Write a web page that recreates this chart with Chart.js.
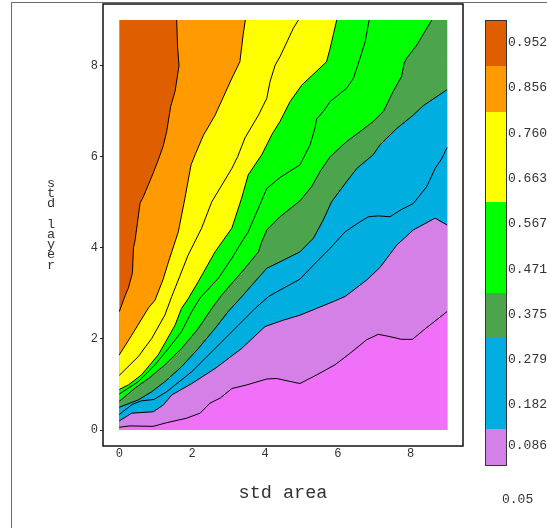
<!DOCTYPE html>
<html>
<head>
<meta charset="utf-8">
<script src="https://cdn.jsdelivr.net/npm/chart.js@4.4.1/dist/chart.umd.min.js"></script>
<style>
  html, body { margin: 0; padding: 0; background: #fff; }
  #wrap { position: relative; width: 547px; height: 528px; overflow: hidden; font-family: "Liberation Mono", "Courier New", monospace; color: #333; }
  #c { position: absolute; left: 0; top: 0; }
  #page { position: absolute; left: 11px; top: 2px; right: -5px; bottom: -5px; border-left: 1px solid #6a6a6a; border-top: 1px solid #6a6a6a; }
  #xTitle { position: absolute; left: 183px; width: 200px; top: 485px; text-align: center; font-size: 18.5px; line-height: 18px; white-space: pre; }
  #yTitle { position: absolute; left: 44px; width: 14px; top: 179px; font-size: 13.5px; line-height: 10.2px; text-align: center; }
  #yTitle span { display: block; height: 10.2px; }
  #bar { position: absolute; left: 485px; top: 20px; width: 20px; border: 1px solid #333; }
  #bar div { width: 20px; }
  .lab { position: absolute; left: 508px; font-size: 13px; white-space: pre; }
</style>
</head>
<body>
<div id="wrap">
  <div id="page"></div>
  <canvas id="c" width="547" height="528"></canvas>
  <div id="xTitle"></div>
  <div id="yTitle"></div>
  <div id="bar"></div>
  <div id="labs"></div>
</div>
<script>
// filled contour of the std area / std layer surface
const xTitle = "std area", yTitle = "std layer";
const xTicks = [0, 2, 4, 6, 8];
const yTicks = [0, 2, 4, 6, 8];
const xRange = [0, 9], yRange = [0, 9];

// colour key (top bin first)
const keyLabels = ["0.952", "0.856", "0.760", "0.663", "0.567", "0.471", "0.375", "0.279", "0.182", "0.086"];
const keyColors = ["#df5f00", "#ff9a00", "#ffff00", "#ffff00", "#00ff00", "#00ff00", "#4ca44c", "#00aedf", "#00aedf", "#d580e6"];
const keyMin = "0.05";

// contour lines, from the top-left corner down to the bottom-right
const c1 = [[0,2.6],[0.16,2.95],[0.25,3.12],[0.36,3.45],[0.39,4.0],[0.43,4.15],[0.57,4.98],[0.66,5.12],[0.92,5.62],[1.07,5.93],[1.2,6.22],[1.3,6.55],[1.41,7.1],[1.53,7.43],[1.64,8.0],[1.6,8.4],[1.575,9]];
const c2 = [[0,1.65],[0.34,2.08],[0.8,2.68],[0.98,2.85],[1.2,3.3],[1.35,3.69],[1.62,4.35],[1.8,5.08],[1.97,5.82],[2.08,6.04],[2.31,6.47],[2.63,6.91],[3.09,7.72],[3.31,8.08],[3.4,8.67],[3.46,9]];
const c3 = [[0,1.2],[0.52,1.61],[0.89,2.01],[1.25,2.52],[1.44,2.93],[1.89,3.84],[2.26,4.43],[2.54,5.01],[3.09,5.74],[3.25,6.0],[3.45,6.41],[3.82,6.91],[4.05,7.28],[4.14,7.65],[4.28,8.01],[4.41,8.19],[4.78,8.82],[4.92,9]];
const c4 = [[0,0.89],[0.25,0.99],[0.61,1.21],[1.07,1.65],[1.53,2.3],[1.71,2.67],[1.89,2.88],[2.17,3.26],[2.63,3.91],[3.09,4.43],[3.36,5.09],[3.54,5.6],[3.91,6.04],[4.2,6.5],[4.41,6.77],[4.69,7.21],[5.01,7.57],[5.69,8.08],[5.79,8.38],[5.97,9]];
const c5 = [[0,0.79],[0.52,1.06],[0.98,1.43],[1.35,1.79],[1.71,2.16],[1.99,2.6],[2.22,2.9],[2.72,3.33],[3.09,3.77],[3.31,4.06],[3.54,4.35],[3.82,4.87],[4.05,5.3],[4.41,5.54],[4.96,5.82],[5.1,6.04],[5.24,6.26],[5.37,6.62],[5.42,6.83],[5.6,6.99],[5.79,7.21],[6.24,7.5],[6.43,7.72],[6.61,8.16],[6.75,8.52],[6.86,9]];
const c6 = [[0,0.63],[0.43,0.92],[0.8,1.13],[1.25,1.43],[1.71,1.79],[2.17,2.23],[2.54,2.67],[2.81,2.96],[3.45,3.55],[3.82,3.91],[3.91,4.13],[4.05,4.39],[4.41,4.68],[4.96,5.03],[5.28,5.34],[5.51,5.67],[5.79,6.0],[6.24,6.33],[6.61,6.55],[6.97,6.77],[7.25,6.99],[7.52,7.43],[7.75,7.76],[7.82,8.05],[7.89,8.16],[8.17,8.45],[8.58,9]];
const c7 = [[0,0.5],[0.52,0.66],[0.89,0.84],[1.25,1.06],[1.71,1.39],[2.17,1.79],[2.63,2.23],[2.99,2.6],[3.4,2.96],[3.64,3.18],[4.05,3.55],[4.41,3.69],[4.96,3.91],[5.33,4.21],[5.6,4.61],[5.83,5.01],[6.24,5.45],[6.52,5.74],[6.97,6.04],[7.16,6.26],[7.62,6.62],[8.07,6.91],[8.35,7.12],[9,7.47]];
const c8 = [[0,0.34],[0.35,0.56],[0.6,0.64],[0.95,0.67],[1.3,0.84],[1.99,1.28],[2.63,1.79],[3.27,2.3],[3.73,2.67],[4.1,2.93],[4.41,3.07],[4.96,3.31],[5.33,3.62],[5.79,3.99],[6.2,4.35],[6.61,4.57],[6.84,4.68],[7.11,4.7],[7.43,4.68],[7.75,4.84],[8.07,4.97],[8.44,5.34],[8.67,5.74],[8.85,5.95],[9,6.2]];
const c9 = [[0,0.2],[0.34,0.37],[0.93,0.4],[1.21,0.55],[1.44,0.77],[1.99,1.02],[2.63,1.35],[3.36,1.79],[4.0,2.27],[4.5,2.41],[4.96,2.52],[5.42,2.67],[5.88,2.82],[6.2,2.93],[6.79,3.29],[7.16,3.57],[7.62,4.06],[8.07,4.39],[8.67,4.65],[9,4.5]];
const c10 = [[0,0.06],[0.29,0.09],[0.93,0.08],[1.3,0.16],[1.85,0.26],[2.22,0.37],[2.49,0.59],[2.77,0.7],[3.09,0.91],[3.5,0.99],[4.05,1.12],[4.32,1.13],[4.96,1.02],[5.42,1.21],[5.92,1.43],[6.33,1.68],[6.79,1.98],[7.11,2.1],[7.43,2.05],[7.75,1.99],[8.05,1.99],[8.35,2.19],[9,2.6]];
const contours = [c1, c2, c3, c4, c5, c6, c7, c8, c9, c10];

// fill above c1, then the band under each contour
const topColor = "#df5f00";
const bandColors = ["#ff9a00", "#ffff00", "#ffff00", "#00ff00", "#00ff00", "#4ca44c", "#00aedf", "#00aedf", "#d580e6", "#f070fa"];

const $ = (id) => document.getElementById(id);
const pts = (a) => a.map(([x, y]) => ({ x, y }));

// region to the lower right of a contour, closed along the domain edge
function under(c) {
  const p = pts(c);
  const [x0, x1] = xRange, [y0, y1] = yRange;
  if (c[c.length - 1][1] >= y1) p.push({ x: x1, y: y1 });
  p.push({ x: x1, y: y0 }, { x: x0, y: y0 });
  return p;
}

const base = { pointRadius: 0, tension: 0, showLine: true };
const datasets = [
  { ...base, data: pts([[xRange[0], yRange[0]], [xRange[0], yRange[1]], [xRange[1], yRange[1]], [xRange[1], yRange[0]]]),
    fill: "shape", backgroundColor: topColor, borderColor: "rgba(0,0,0,0)", borderWidth: 0, order: 50 },
  ...contours.map((c, i) => ({ ...base, data: under(c), fill: "shape", backgroundColor: bandColors[i],
    borderColor: "rgba(0,0,0,0)", borderWidth: 0, order: 40 - i })),
  ...contours.map((c) => ({ ...base, data: pts(c), fill: false, borderColor: "#000", borderWidth: 1, order: 0 })),
];

const frame = {
  id: "frame",
  afterDraw(chart) {
    const { ctx, chartArea: a } = chart;
    ctx.save();
    ctx.strokeStyle = "#111"; ctx.lineWidth = 1.5;
    ctx.strokeRect(a.left, a.top, a.right - a.left, a.bottom - a.top);
    ctx.restore();
  }
};

const tickFont = { family: "'Liberation Mono', 'Courier New', monospace", size: 12 };
new Chart($("c"), {
  type: "line",
  data: { datasets },
  options: {
    responsive: false, animation: false, events: [],
    layout: { padding: { left: 0, right: 84, top: 4, bottom: 0 } },
    plugins: { legend: { display: false }, tooltip: { enabled: false } },
    scales: {
      x: {
        type: "linear", min: -0.448, max: 9.437,
        afterBuildTicks: s => { s.ticks = xTicks.map(v => ({ value: v })); },
        afterFit: s => { s.height = 82; s.paddingLeft = 0; s.paddingRight = 0; },
        grid: { display: false, drawTicks: false }, border: { display: false },
        ticks: { font: tickFont, color: "#333", padding: 1, maxRotation: 0 }
      },
      y: {
        type: "linear", min: -0.351, max: 9.35,
        afterBuildTicks: s => { s.ticks = yTicks.map(v => ({ value: v })); },
        afterFit: s => { s.width = 103; s.paddingTop = 0; s.paddingBottom = 0; },
        grid: { display: true, drawOnChartArea: false, drawTicks: true, tickLength: 3, color: "#222" }, border: { display: false },
        ticks: { font: tickFont, color: "#333", padding: 2 }
      }
    }
  },
  plugins: [frame]
});

// titles
$("xTitle").textContent = xTitle;
$("yTitle").innerHTML = yTitle.split("").map(ch => `<span>${ch === " " ? "&nbsp;" : ch}</span>`).join("");

// colour key: equal bins, the lowest one cut at the 0.05 floor
const binH = 45.3, lastH = 36;
let keyTop = 20;
$("bar").innerHTML = keyColors.map((col, i) => `<div style="height:${i === keyColors.length - 1 ? lastH : binH}px;background:${col}"></div>`).join("");
$("labs").innerHTML = keyLabels.map((t, i) => {
  const h = i === keyLabels.length - 1 ? lastH : binH;
  const d = `<div class="lab" style="top:${keyTop}px;height:${h}px;line-height:${h}px">${t}</div>`;
  keyTop += h; return d;
}).join("") + `<div class="lab" style="left:502px;top:492px;line-height:16px">${keyMin}</div>`;
</script>
</body>
</html>
